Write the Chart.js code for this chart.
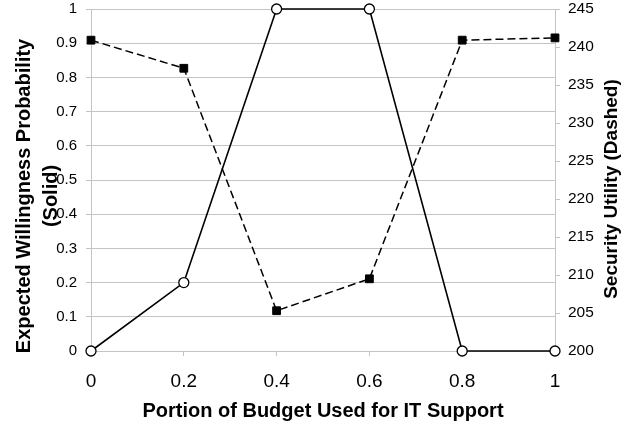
<!DOCTYPE html>
<html>
<head>
<meta charset="utf-8">
<script src="https://cdn.jsdelivr.net/npm/chart.js@4/dist/chart.umd.min.js"></script>
<style>
html,body{margin:0;padding:0;background:#fff;}
#wrap{width:624px;height:425px;position:relative;}
</style>
</head>
<body>
<div id="wrap"><canvas id="c" width="624" height="425"></canvas></div>
<script>
// ---- data ----
const budgetPortion = [0, 0.2, 0.4, 0.6, 0.8, 1];
const willingness = [0, 0.2, 1, 1, 0, 0];            // solid, left axis
const securityUtility = [240.9, 237.2, 205.3, 209.5, 240.9, 241.2]; // dashed, right axis
const xTickLabels = ['0', '0.2', '0.4', '0.6', '0.8', '1'];
const leftTickLabels = ['0', '0.1', '0.2', '0.3', '0.4', '0.5', '0.6', '0.7', '0.8', '0.9', '1'];
const rightTickLabels = ['200', '205', '210', '215', '220', '225', '230', '235', '240', '245'];
const xTitle = 'Portion of Budget Used for IT Support';
const leftTitle = ['Expected Willingness Probability', '(Solid)'];
const rightTitle = 'Security Utility (Dashed)';

const FONT = "'Liberation Sans', Arial, sans-serif";
const GRID = '#c4c4c4';

const yTitles = {
  id: 'yTitles',
  afterDraw(chart) {
    const ctx = chart.ctx;
    ctx.save();
    ctx.fillStyle = '#000';
    ctx.textAlign = 'center';
    ctx.textBaseline = 'middle';
    // left title (two lines), rotated -90
    ctx.font = "bold 20px " + FONT;
    ctx.save();
    ctx.translate(24, 196);
    ctx.rotate(-Math.PI / 2);
    ctx.fillText(leftTitle[0], 0, 0);
    ctx.fillText(leftTitle[1], 0, 27);
    ctx.restore();
    // right title, rotated -90
    ctx.font = "bold 19px " + FONT;
    ctx.save();
    ctx.translate(612, 189);
    ctx.rotate(-Math.PI / 2);
    ctx.fillText(rightTitle, 0, 0);
    ctx.restore();
    ctx.restore();
  }
};

const noPad = s => { s.paddingTop = 0; s.paddingBottom = 0; };

new Chart(document.getElementById('c'), {
  type: 'scatter',
  data: {
    datasets: [
      {
        label: 'Security Utility',
        data: budgetPortion.map((x, i) => ({x: x, y: securityUtility[i]})),
        yAxisID: 'y2',
        showLine: true,
        borderColor: '#000',
        borderWidth: 1.5,
        borderDash: [8, 4],
        pointStyle: 'rect',
        pointRadius: 5.5,
        pointBackgroundColor: '#000',
        pointBorderColor: '#000',
        pointBorderWidth: 1,
        clip: false,
        order: 2
      },
      {
        label: 'Willingness',
        data: budgetPortion.map((x, i) => ({x: x, y: willingness[i]})),
        yAxisID: 'y',
        showLine: true,
        borderColor: '#000',
        borderWidth: 1.6,
        pointStyle: 'circle',
        pointRadius: 5,
        pointBackgroundColor: '#fff',
        pointBorderColor: '#000',
        pointBorderWidth: 1.3,
        clip: false,
        order: 1
      }
    ]
  },
  options: {
    responsive: false,
    animation: false,
    events: [],
    layout: { padding: { top: 9, left: 0, right: 0, bottom: 0 } },
    plugins: { legend: { display: false }, tooltip: { enabled: false } },
    scales: {
      x: {
        type: 'linear',
        position: 'bottom',
        min: 0, max: 1,
        afterFit(s) { s.height = 74; s.paddingLeft = 0; s.paddingRight = 0; },
        afterBuildTicks(s) { s.ticks = budgetPortion.map(v => ({value: v})); },
        ticks: {
          callback: (v, i) => xTickLabels[i],
          font: { family: FONT, size: 19 },
          color: '#000',
          padding: 14,
          maxRotation: 0
        },
        grid: { drawOnChartArea: false, drawTicks: true, tickLength: 5, color: GRID, tickColor: GRID },
        border: { display: true, color: GRID },
        title: {
          display: true,
          text: xTitle,
          font: { family: FONT, size: 20, weight: 'bold' },
          color: '#000',
          padding: { top: 0, bottom: 2 }
        }
      },
      y: {
        type: 'linear',
        position: 'left',
        min: 0, max: 1,
        afterFit(s) { s.width = 91; noPad(s); },
        afterBuildTicks(s) { s.ticks = leftTickLabels.map(t => ({value: parseFloat(t)})); },
        ticks: {
          callback: (v, i) => leftTickLabels[i],
          font: { family: FONT, size: 15 },
          color: '#000',
          padding: 9
        },
        grid: { color: GRID, tickColor: GRID, tickLength: 5 },
        border: { display: true, color: GRID }
      },
      y2: {
        type: 'linear',
        position: 'right',
        min: 200, max: 245,
        afterFit(s) { s.width = 69; noPad(s); },
        afterBuildTicks(s) { s.ticks = rightTickLabels.map(t => ({value: parseFloat(t)})); },
        ticks: {
          callback: (v, i) => rightTickLabels[i],
          font: { family: FONT, size: 15.5 },
          color: '#000',
          padding: 8
        },
        grid: { drawOnChartArea: false, color: GRID, tickColor: GRID, tickLength: 5 },
        border: { display: true, color: GRID }
      }
    }
  },
  plugins: [yTitles]
});
</script>
</body>
</html>
